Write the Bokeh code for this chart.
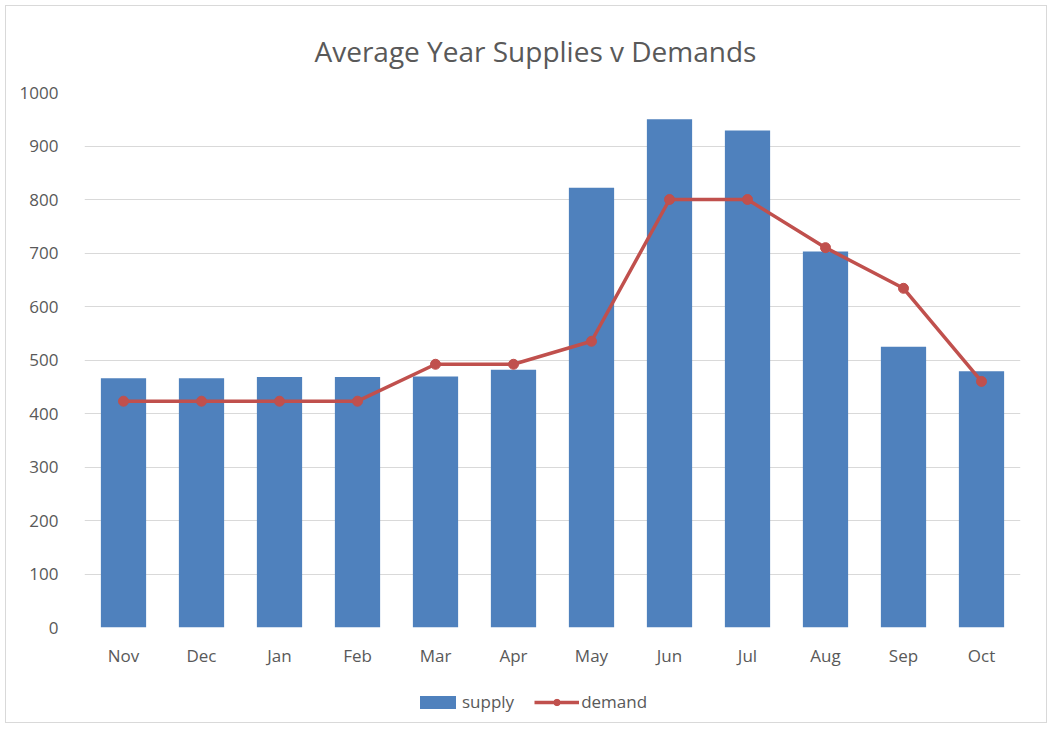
from bokeh.plotting import figure
from bokeh.layouts import column
from bokeh.models import ColumnDataSource, Legend, LegendItem, Range1d, FixedTicker, Title
from bokeh.embed import file_html
from bokeh.resources import INLINE

months = ["Nov", "Dec", "Jan", "Feb", "Mar", "Apr", "May", "Jun", "Jul", "Aug", "Sep", "Oct"]
supply = [466, 466, 468, 468, 469, 482, 822, 950, 929, 703, 525, 479]
demand = [423, 423, 423, 423, 492, 492, 535, 800, 800, 710, 634, 460]
y_ticks = [0, 100, 200, 300, 400, 500, 600, 700, 800, 900, 1000]
title_text = "Average Year Supplies v Demands"

src = ColumnDataSource(dict(month=months, supply=supply, demand=demand))

FONT = "Open Sans"
GRAY = "#595959"
BLUE = "#4f81bd"
RED = "#c0504d"

p = figure(x_range=months, width=1040, height=676, output_backend="svg",
           toolbar_location=None, min_border_left=78, min_border_right=26,
           min_border_top=86, min_border_bottom=55)
p.y_range = Range1d(0, 1000)
p.outline_line_color = None
p.border_fill_color = "white"

p.title = Title(text=title_text, align="left", offset=230, standoff=45,
                text_font=FONT, text_font_size="28px", text_color=GRAY,
                text_font_style="normal")

p.vbar(x="month", top="supply", width=0.58, source=src, fill_color=BLUE, line_color=None)
p.line(x="month", y="demand", source=src, line_color=RED, line_width=3.5)
p.scatter(x="month", y="demand", source=src, size=10, fill_color=RED, line_color=RED)

p.xgrid.grid_line_color = None
p.ygrid.grid_line_color = "#d9d9d9"
p.ygrid.grid_line_width = 1
p.yaxis.ticker = FixedTicker(ticks=y_ticks)

for ax in (p.xaxis[0], p.yaxis[0]):
    ax.axis_line_color = None
    ax.major_tick_line_color = None
    ax.minor_tick_line_color = None
    ax.major_label_text_font = FONT
    ax.major_label_text_font_size = "17px"
    ax.major_label_text_color = GRAY
p.xaxis.major_label_standoff = 10
p.yaxis.major_label_standoff = 20

# legend strip: same series drawn out of view, only their legend swatches show
q = figure(width=1040, height=40, output_backend="svg", toolbar_location=None,
           x_axis_type=None, y_axis_type=None, min_border=0,
           x_range=p.x_range, y_range=Range1d(2000, 2001))
q.outline_line_color = None
q.xgrid.grid_line_color = None
q.ygrid.grid_line_color = None
sw_bar = q.vbar(x="month", top="supply", width=0.58, source=src, fill_color=BLUE, line_color=None)
sw_line = q.line(x="month", y="demand", source=src, line_color=RED, line_width=3.5)
sw_pt = q.scatter(x="month", y="demand", source=src, size=10, fill_color=RED, line_color=RED)

legend = Legend(items=[LegendItem(label="supply", renderers=[sw_bar]),
                       LegendItem(label="demand", renderers=[sw_line, sw_pt])],
                orientation="horizontal", location=(331, 9),
                label_text_font=FONT, label_text_font_size="17px",
                label_text_color=GRAY, border_line_color=None, background_fill_alpha=0,
                glyph_width=45, glyph_height=16, spacing=20, label_standoff=2,
                margin=0, padding=0)
q.add_layout(legend, "center")

layout = column(p, q, spacing=0)
layout.styles = {"margin": "5px", "border": "1px solid #d9d9d9"}

open("out.html", "w").write(file_html(layout, INLINE))
